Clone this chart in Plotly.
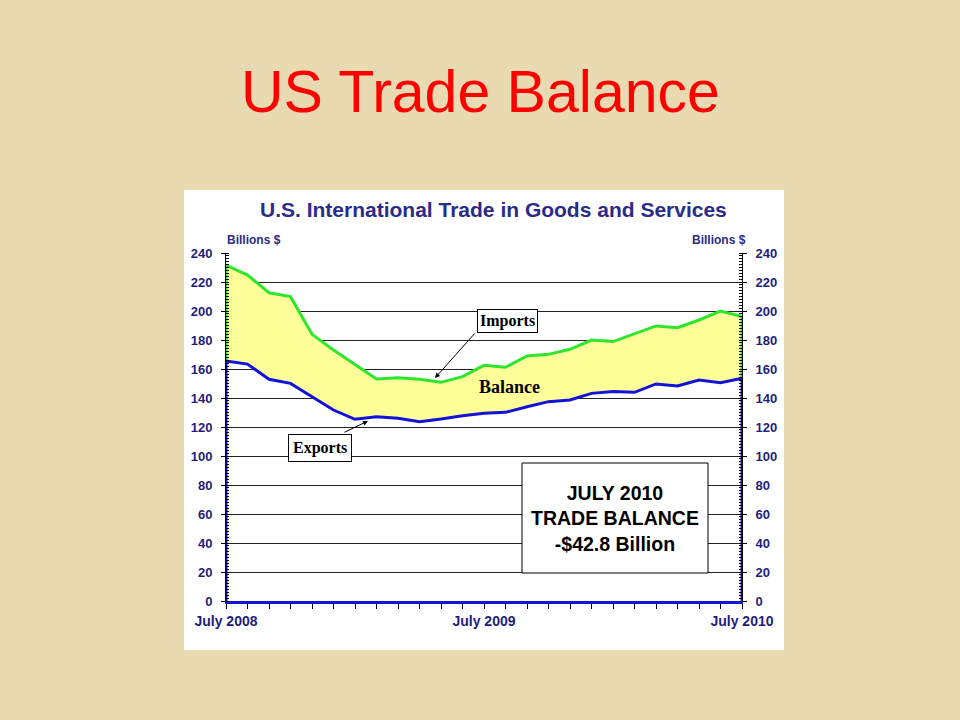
import plotly.graph_objects as go

# ---- data (billions of US dollars, monthly, July 2008 - July 2010) ----
months = ["Jul 2008", "Aug 2008", "Sep 2008", "Oct 2008", "Nov 2008", "Dec 2008",
          "Jan 2009", "Feb 2009", "Mar 2009", "Apr 2009", "May 2009", "Jun 2009",
          "Jul 2009", "Aug 2009", "Sep 2009", "Oct 2009", "Nov 2009", "Dec 2009",
          "Jan 2010", "Feb 2010", "Mar 2010", "Apr 2010", "May 2010", "Jun 2010",
          "Jul 2010"]
imports = [231.7, 224.8, 212.6, 209.9, 183.9, 173.1, 162.8, 153.1, 154.0, 152.9,
           150.8, 154.7, 162.5, 161.2, 169.0, 170.1, 173.6, 180.0, 178.9, 184.1,
           189.7, 188.5, 193.8, 200.0, 196.1]
exports = [165.5, 163.4, 152.9, 150.1, 140.9, 131.7, 125.3, 127.1, 126.0, 123.7,
           125.5, 127.8, 129.5, 130.1, 134.0, 137.5, 138.6, 143.2, 144.4, 143.9,
           149.7, 148.3, 152.4, 150.6, 153.6]
tick_labels = {0: "July 2008", 12: "July 2009", 24: "July 2010"}
y_ticks = list(range(0, 241, 20))

x = list(range(len(months)))
n = len(x) - 1

NAVY = "#1E1E7C"
GREEN = "#2EE62E"
BLUE = "#1212D8"
YELLOW = "#FFFF99"

# plot area in pixels
L, R, T, B = 226, 742, 253, 601
def px(v):
    return (v - L) / (R - L)
def py(v):
    return (B - v) / (B - T)

fig = go.Figure()

# yellow balance band between imports and exports
fig.add_trace(go.Scatter(
    x=x + x[::-1], y=imports + exports[::-1], fill="toself",
    fillcolor=YELLOW, line=dict(width=0), mode="lines",
    hoverinfo="skip", showlegend=False))

# imports line (closed down to exports at both ends)
fig.add_trace(go.Scatter(
    x=[x[0]] + x + [x[-1]], y=[exports[0]] + imports + [exports[-1]],
    mode="lines", line=dict(color=GREEN, width=3), name="Imports",
    showlegend=False))

# exports line (closed down to zero at both ends)
fig.add_trace(go.Scatter(
    x=[x[0]] + x + [x[-1]], y=[0] + exports + [0],
    mode="lines", line=dict(color=BLUE, width=3), name="Exports",
    showlegend=False))

# invisible trace to activate right axis
fig.add_trace(go.Scatter(
    x=x, y=exports, yaxis="y2", mode="lines", opacity=0,
    line=dict(width=0), hoverinfo="skip", showlegend=False))

tickfont = dict(family="Liberation Sans, Arial", size=13, color=NAVY,
                weight="bold")
yax = dict(
    range=[0, 240], tickvals=y_ticks, ticks="outside", ticklen=4,
    tickcolor="black", tickwidth=1, showline=True, linecolor="black",
    linewidth=1, tickfont=tickfont, ticklabelstandoff=6, zeroline=False,
    minor=dict(dtick=2, ticks="inside", ticklen=3, tickcolor="black",
               showgrid=False),
    fixedrange=True)

fig.update_layout(
    width=960, height=720,
    margin=dict(l=L, r=960 - R, t=T, b=720 - B),
    paper_bgcolor="#E9DAB2",
    plot_bgcolor="white",
    showlegend=False,
    font=dict(family="Liberation Sans, Arial"),
    xaxis=dict(
        range=[0, n], tickvals=x,
        ticktext=[tick_labels.get(i, "") for i in x],
        ticks="outside", ticklen=5, tickcolor="black", showgrid=False,
        showline=True, linecolor=BLUE, linewidth=3, zeroline=False,
        tickfont=dict(tickfont, size=14), tickangle=0, fixedrange=True),
    yaxis=dict(**yax, showgrid=True, gridcolor="#222222", gridwidth=1),
    yaxis2=dict(**yax, overlaying="y", side="right", showgrid=False),
)

# white chart panel
fig.add_shape(type="rect", xref="paper", yref="paper",
              x0=px(184), x1=px(784), y0=py(650), y1=py(190),
              fillcolor="white", line=dict(width=0), layer="below")

# trade balance box
fig.add_shape(type="rect", xref="paper", yref="paper",
              x0=px(522), x1=px(708), y0=py(573), y1=py(463),
              fillcolor="white", line=dict(color="black", width=1),
              layer="above")

anns = [
    dict(text="US Trade Balance", x=px(480), y=py(92),
         font=dict(family="Liberation Sans, Arial", size=59, color="#FF0000")),
    dict(text="<b>U.S. International Trade in Goods and Services</b>",
         x=px(493), y=py(209),
         font=dict(family="Liberation Sans, Arial", size=21, color="#2B2B88")),
    dict(text="<b>Billions $</b>", x=px(225), y=py(240), xanchor="left",
         font=dict(family="Liberation Sans, Arial", size=12, color="#2B2B88")),
    dict(text="<b>Billions $</b>", x=px(748), y=py(240), xanchor="right",
         font=dict(family="Liberation Sans, Arial", size=12, color="#2B2B88")),
    dict(text="<b>JULY 2010<br>TRADE BALANCE<br>-$42.8 Billion</b>",
         x=px(615), y=py(518),
         font=dict(family="Liberation Sans, Arial", size=19.5, color="black")),
    dict(text="<b>Balance</b>", x=px(509), y=py(387),
         font=dict(family="Liberation Serif, Times New Roman", size=18,
                   color="black")),
    dict(text="<b>Imports</b>", x=px(507), y=py(321),
         bgcolor="white", bordercolor="black", borderwidth=1, borderpad=2,
         font=dict(family="Liberation Serif, Times New Roman", size=16,
                   color="black")),
    dict(text="<b>Exports</b>", x=px(320), y=py(448),
         bgcolor="white", bordercolor="black", borderwidth=1, borderpad=4,
         font=dict(family="Liberation Serif, Times New Roman", size=16,
                   color="black")),
]
for a in anns:
    a.setdefault("xanchor", "center")
    a.setdefault("yanchor", "middle")
    fig.add_annotation(xref="paper", yref="paper", showarrow=False, **a)

# arrows
for head, tail in [((435, 378), (476, 332)), ((368, 421), (343, 433))]:
    fig.add_annotation(xref="paper", yref="paper", axref="pixel", ayref="pixel",
                       x=px(head[0]), y=py(head[1]),
                       ax=tail[0] - head[0], ay=tail[1] - head[1],
                       text="", showarrow=True, arrowhead=2, arrowsize=1,
                       arrowwidth=1, arrowcolor="black")

fig.write_html("out.html", config={"displayModeBar": False},
               post_script="document.body.style.margin='0';"
                           "document.body.style.background='#E9DAB2';")
